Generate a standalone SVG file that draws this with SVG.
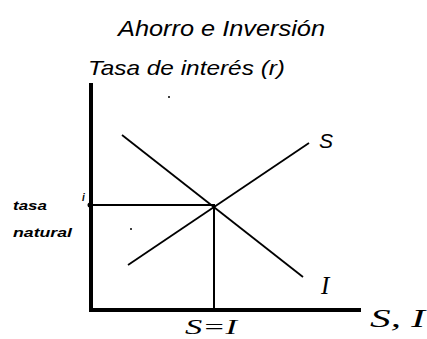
<svg xmlns="http://www.w3.org/2000/svg" width="427" height="339" viewBox="0 0 427 339">
<style>
.t{font-family:"Liberation Sans",Arial,sans-serif;font-style:italic;fill:#000}
.s{font-family:"Liberation Serif","Times New Roman",serif;font-style:italic;fill:#000}
.ax{stroke:#000;stroke-width:4;fill:none}
.ln{stroke:#000;stroke-width:1.8;fill:none}
.gd{stroke:#000;stroke-width:2;fill:none}
</style>
<rect width="427" height="339" fill="#fff"/>
<g id="title">
<text class="t" x="118" y="36" font-size="22" textLength="207" lengthAdjust="spacingAndGlyphs">Ahorro e Inversión</text>
</g>
<g id="y-label">
<text class="t" x="88" y="75" font-size="21" textLength="197" lengthAdjust="spacingAndGlyphs">Tasa de interés (r)</text>
</g>
<g id="axes">
<line class="ax" x1="91" y1="83" x2="91" y2="312"/>
<line class="ax" x1="89" y1="310" x2="361" y2="310"/>
</g>
<g id="connectors">
<line id="curve-I" class="ln" x1="122" y1="135" x2="303" y2="277"/>
<line id="curve-S" class="ln" x1="128" y1="265" x2="309" y2="143"/>
<line id="guide-h" class="gd" x1="91" y1="205" x2="215" y2="205"/>
<line id="guide-v" class="gd" x1="214" y1="205" x2="214" y2="310"/>
</g>
<g id="label-S"><text class="t" x="319" y="148" font-size="21">S</text></g>
<g id="label-I"><text class="s" x="321" y="294" font-size="25">I</text></g>
<g id="label-SI-axis"><text class="s" x="370" y="327" font-size="25" textLength="55" lengthAdjust="spacingAndGlyphs">S, I</text></g>
<g id="label-SeqI"><text class="s" x="185" y="334" font-size="22" textLength="52" lengthAdjust="spacingAndGlyphs">S=I</text></g>
<g id="label-tasa">
<text class="t" x="13" y="210" font-size="13" font-weight="bold" textLength="34" lengthAdjust="spacingAndGlyphs">tasa</text>
<text class="t" x="13" y="237" font-size="13" font-weight="bold" textLength="59" lengthAdjust="spacingAndGlyphs">natural</text>
<text class="t" x="82" y="201" font-size="10" font-weight="bold">i</text>
<circle cx="90" cy="205" r="2.5" fill="#000"/>
</g>
<circle cx="169" cy="97" r="1" fill="#000"/>
<circle cx="131" cy="229" r="1" fill="#000"/>
</svg>
